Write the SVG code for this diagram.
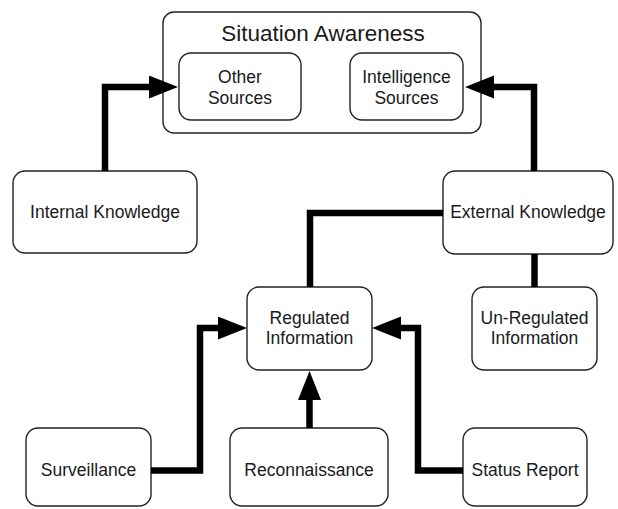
<svg xmlns="http://www.w3.org/2000/svg" width="618" height="509" viewBox="0 0 618 509">
<style>
.box{fill:#fff;stroke:#222;stroke-width:1.4}
.lbl{font-family:"Liberation Sans",Arial,Helvetica,sans-serif;font-size:17.5px;fill:#1a1a1a;text-anchor:middle}
.title{font-size:22.5px}
.conn{fill:none;stroke:#000;stroke-width:6.5;stroke-linejoin:miter;stroke-linecap:butt}
</style>
<defs>
<marker id="arr" markerUnits="userSpaceOnUse" markerWidth="30" markerHeight="24" refX="0" refY="11.5" orient="auto">
<path d="M0,0 L29,11.5 L0,23 z" fill="#000"/>
</marker>
</defs>
<rect width="618" height="509" fill="#fff"/>
<g id="situation-awareness">
<rect class="box" x="163" y="12" width="318" height="121" rx="11"/>
<text class="lbl title" x="323" y="41">Situation Awareness</text>
</g>
<g id="other-sources">
<rect class="box" x="179" y="53" width="122" height="67" rx="12"/>
<text class="lbl" x="240" y="83">Other</text>
<text class="lbl" x="240" y="104">Sources</text>
</g>
<g id="intelligence-sources">
<rect class="box" x="350" y="53" width="113" height="67" rx="12"/>
<text class="lbl" x="406.5" y="83">Intelligence</text>
<text class="lbl" x="406.5" y="104">Sources</text>
</g>
<g id="internal-knowledge">
<rect class="box" x="13" y="171" width="184" height="82" rx="12"/>
<text class="lbl" x="105" y="218">Internal Knowledge</text>
</g>
<g id="external-knowledge">
<rect class="box" x="443" y="171" width="170" height="83" rx="12"/>
<text class="lbl" x="528" y="218">External Knowledge</text>
</g>
<g id="regulated-information">
<rect class="box" x="247" y="287" width="125" height="83" rx="12"/>
<text class="lbl" x="309.5" y="324">Regulated</text>
<text class="lbl" x="309.5" y="344">Information</text>
</g>
<g id="unregulated-information">
<rect class="box" x="472" y="287" width="125" height="83" rx="12"/>
<text class="lbl" x="534.5" y="324">Un-Regulated</text>
<text class="lbl" x="534.5" y="344">Information</text>
</g>
<g id="surveillance">
<rect class="box" x="26" y="428" width="125" height="78" rx="12"/>
<text class="lbl" x="88.5" y="476">Surveillance</text>
</g>
<g id="reconnaissance">
<rect class="box" x="230" y="428" width="158" height="78" rx="12"/>
<text class="lbl" x="309" y="476">Reconnaissance</text>
</g>
<g id="status-report">
<rect class="box" x="463" y="428" width="124" height="78" rx="12"/>
<text class="lbl" x="525" y="476">Status Report</text>
</g>
<g id="connectors">
<path class="conn" d="M105,171 V87 H149" marker-end="url(#arr)"/>
<path class="conn" d="M534,171 V87 H494" marker-end="url(#arr)"/>
<path class="conn" d="M310,287 V213 H443"/>
<path class="conn" d="M534.5,254 V287"/>
<path class="conn" d="M151,470.5 H200 V328 H218" marker-end="url(#arr)"/>
<path class="conn" d="M309.5,428 V400" marker-end="url(#arr)"/>
<path class="conn" d="M463,470.5 H418 V328 H401" marker-end="url(#arr)"/>
</g>
</svg>
